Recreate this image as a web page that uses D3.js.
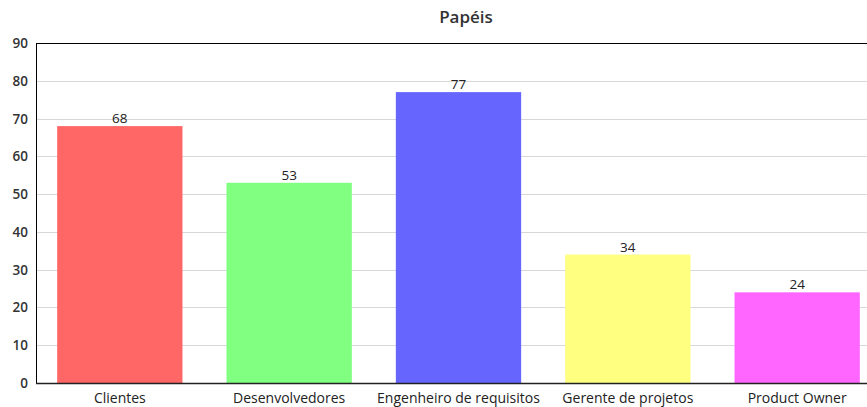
<!DOCTYPE html>
<meta charset="utf-8">
<style>
  body { margin: 0; background: #fff; }
  text { font-family: "Open Sans", sans-serif; fill: #222; }
</style>
<script src="https://d3js.org/d3.v7.min.js"></script>
<div id="chart"></div>
<script>

  var categories = ["Clientes", "Desenvolvedores", "Engenheiro de requisitos", "Gerente de projetos", "Product Owner"]
  var values = [68, 53, 77, 34, 24]
  var colors = ["#ff6666", "#80ff80", "#6666ff", "#ffff80", "#ff66ff"]
  var yTicks = [0, 10, 20, 30, 40, 50, 60, 70, 80, 90]

  var width = 867, height = 407
  var plotLeft = 36, plotRight = 881, plotTop = 43, plotBottom = 383

  var svg = d3.select("#chart").append("svg")
    .attr("width", width)
    .attr("height", height)

  var x = d3.scaleBand()
    .domain(categories)
    .range([plotLeft, plotRight])
    .paddingInner(0.26)
    .paddingOuter(0.125)

  var y = d3.scaleLinear()
    .domain([0, 90])
    .range([plotBottom, plotTop])

  // grid
  svg.selectAll("line.grid")
    .data(yTicks.slice(1, -1))
    .enter().append("line")
      .attr("x1", plotLeft).attr("x2", width)
      .attr("y1", d => Math.round(y(d)) + 0.5).attr("y2", d => Math.round(y(d)) + 0.5)
      .attr("stroke", "#d8d8d8")
      .attr("stroke-width", 1)

  // bars
  svg.selectAll("rect.bar")
    .data(values)
    .enter().append("rect")
      .attr("x", (d, i) => x(categories[i]))
      .attr("y", d => y(d))
      .attr("width", x.bandwidth())
      .attr("height", d => plotBottom - y(d))
      .attr("fill", (d, i) => colors[i])

  // value labels
  svg.selectAll("text.val")
    .data(values)
    .enter().append("text")
      .attr("x", (d, i) => x(categories[i]) + x.bandwidth() / 2)
      .attr("y", d => y(d) - 3)
      .attr("text-anchor", "middle")
      .style("font-size", "13.5px")
      .text(d => d)

  // frame lines
  svg.append("line")
    .attr("x1", plotLeft).attr("x2", width)
    .attr("y1", plotTop + 0.5).attr("y2", plotTop + 0.5)
    .attr("stroke", "#000")
  svg.append("line")
    .attr("x1", plotLeft + 0.5).attr("x2", plotLeft + 0.5)
    .attr("y1", plotTop).attr("y2", plotBottom)
    .attr("stroke", "#000")
  svg.append("line")
    .attr("x1", plotLeft).attr("x2", width)
    .attr("y1", plotBottom + 0.5).attr("y2", plotBottom + 0.5)
    .attr("stroke", "#222")
    .attr("stroke-width", 1.5)

  // y tick labels
  svg.selectAll("text.ytick")
    .data(yTicks)
    .enter().append("text")
      .attr("x", 28)
      .attr("y", d => y(d) + 5)
      .attr("text-anchor", "end")
      .style("font-size", "13.5px")
      .style("font-weight", 600)
      .style("fill", "#333")
      .text(d => d)

  // category labels
  svg.selectAll("text.cat")
    .data(categories)
    .enter().append("text")
      .attr("x", d => x(d) + x.bandwidth() / 2)
      .attr("y", 403)
      .attr("text-anchor", "middle")
      .style("font-size", "14px")
      .style("font-weight", 500)
      .text(d => d)

  // title
  svg.append("text")
    .attr("x", 466)
    .attr("y", 23)
    .attr("text-anchor", "middle")
    .style("font-size", "17px")
    .style("font-weight", 600)
    .style("fill", "#333")
    .text("Papéis")

</script>
